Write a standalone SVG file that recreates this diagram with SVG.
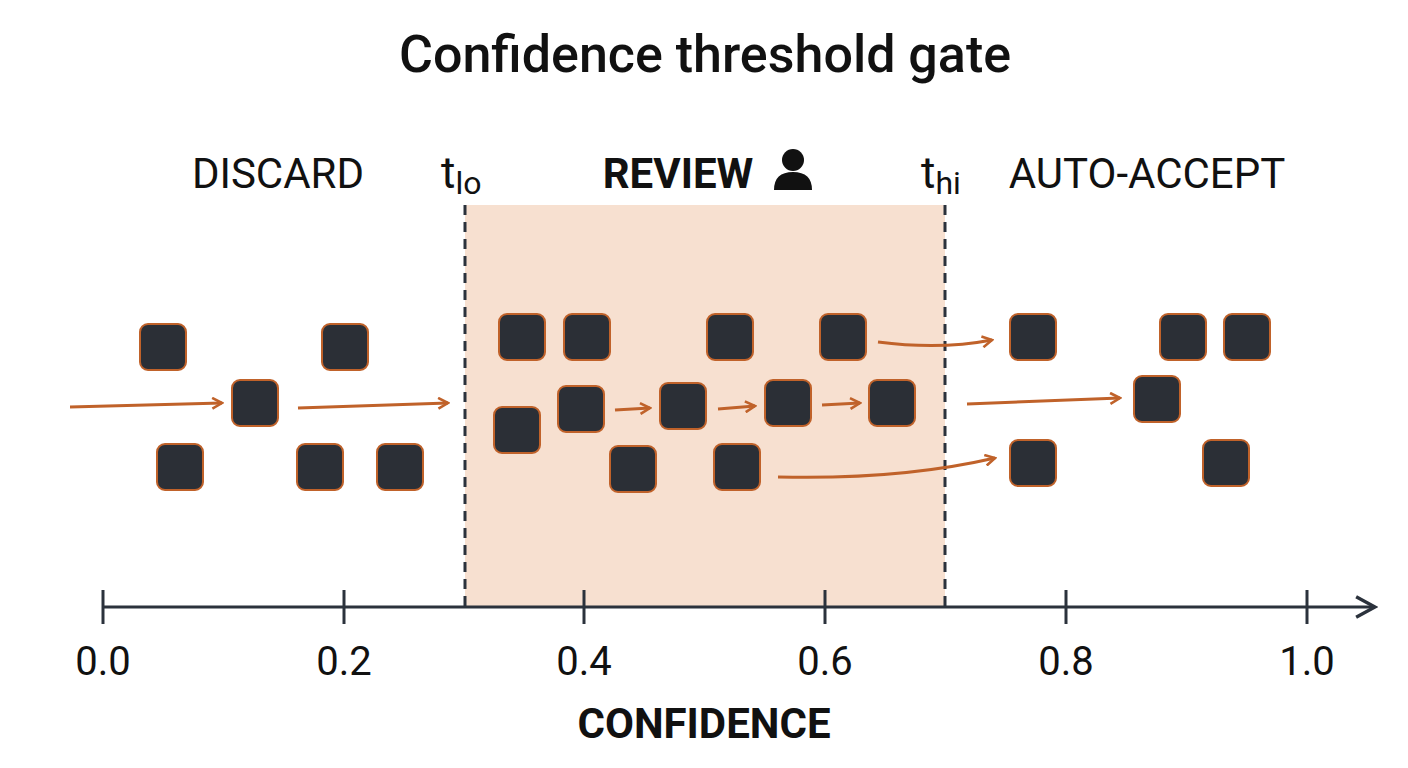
<svg xmlns="http://www.w3.org/2000/svg" width="1408" height="768" viewBox="0 0 1408 768">
<style>
.t{font-family:Roboto,"Liberation Sans",sans-serif;fill:#111}
.sq{fill:#2b2f36;stroke:#c0622a;stroke-width:2}
.ar{fill:none;stroke:#c0622a;stroke-width:3;marker-end:url(#ah)}
.ax{stroke:#2b323c;stroke-width:3;fill:none}
.dash{stroke:#2b323c;stroke-width:3;stroke-dasharray:10 7}
</style>
<defs>
<marker id="ah" viewBox="0 0 12 12" refX="10" refY="6" markerWidth="13" markerHeight="13" markerUnits="userSpaceOnUse" orient="auto"><path d="M1,1 L10,6 L1,11" fill="none" stroke="#c0622a" stroke-width="2.4"/></marker>
<marker id="axh" viewBox="0 0 14 14" refX="12" refY="7" markerWidth="24" markerHeight="24" markerUnits="userSpaceOnUse" orient="auto"><path d="M1,1 L12,7 L1,13" fill="none" stroke="#2b323c" stroke-width="2"/></marker>
</defs>
<rect width="1408" height="768" fill="#fff"/>
<text class="t" x="705" y="72" font-size="52" font-weight="500" text-anchor="middle">Confidence threshold gate</text>
<g id="zones">
<rect x="465" y="205" width="480" height="402" fill="#f7e0d0"/>
<line class="dash" x1="465" y1="205" x2="465" y2="607"/>
<line class="dash" x1="945" y1="205" x2="945" y2="607"/>
</g>
<g id="labels">
<text class="t" x="278" y="188" font-size="42" text-anchor="middle">DISCARD</text>
<text class="t" x="441" y="188" font-size="44">t<tspan font-size="32" dy="6">lo</tspan></text>
<text class="t" x="678" y="188" font-size="42" font-weight="700" text-anchor="middle">REVIEW</text>
<circle cx="793" cy="160" r="11" fill="#111"/>
<path d="M774,190 Q774,172 793,172 Q812,172 812,190 Z" fill="#111"/>
<text class="t" x="921" y="188" font-size="44">t<tspan font-size="32" dy="6">hi</tspan></text>
<text class="t" x="1147" y="188" font-size="42" text-anchor="middle">AUTO-ACCEPT</text>
</g>
<g id="nodes">
<rect class="sq" x="140" y="324" width="46" height="46" rx="8"/>
<rect class="sq" x="322" y="324" width="46" height="46" rx="8"/>
<rect class="sq" x="232" y="380" width="46" height="46" rx="8"/>
<rect class="sq" x="157" y="444" width="46" height="46" rx="8"/>
<rect class="sq" x="297" y="444" width="46" height="46" rx="8"/>
<rect class="sq" x="377" y="444" width="46" height="46" rx="8"/>
<rect class="sq" x="499" y="314" width="46" height="46" rx="8"/>
<rect class="sq" x="564" y="314" width="46" height="46" rx="8"/>
<rect class="sq" x="707" y="314" width="46" height="46" rx="8"/>
<rect class="sq" x="820" y="314" width="46" height="46" rx="8"/>
<rect class="sq" x="494" y="407" width="46" height="46" rx="8"/>
<rect class="sq" x="558" y="386" width="46" height="46" rx="8"/>
<rect class="sq" x="660" y="383" width="46" height="46" rx="8"/>
<rect class="sq" x="765" y="380" width="46" height="46" rx="8"/>
<rect class="sq" x="869" y="380" width="46" height="46" rx="8"/>
<rect class="sq" x="610" y="446" width="46" height="46" rx="8"/>
<rect class="sq" x="714" y="444" width="46" height="46" rx="8"/>
<rect class="sq" x="1010" y="314" width="46" height="46" rx="8"/>
<rect class="sq" x="1160" y="314" width="46" height="46" rx="8"/>
<rect class="sq" x="1224" y="314" width="46" height="46" rx="8"/>
<rect class="sq" x="1134" y="376" width="46" height="46" rx="8"/>
<rect class="sq" x="1010" y="440" width="46" height="46" rx="8"/>
<rect class="sq" x="1203" y="440" width="46" height="46" rx="8"/>
</g>
<g id="connectors">
<path class="ar" d="M70,407 L222,403"/>
<path class="ar" d="M298,408 L448,403"/>
<path class="ar" d="M615,410 L650,408"/>
<path class="ar" d="M718,409 L755,406"/>
<path class="ar" d="M822,405 L860,403"/>
<path class="ar" d="M878,342 Q940,350 992,340"/>
<path class="ar" d="M967,404 L1120,398"/>
<path class="ar" d="M778,477 Q900,480 995,458"/>
</g>
<g id="axis">
<line class="ax" x1="103" y1="607" x2="1375" y2="607" marker-end="url(#axh)"/>
<g class="ax">
<line x1="103" y1="590" x2="103" y2="624"/><line x1="344" y1="590" x2="344" y2="624"/><line x1="584" y1="590" x2="584" y2="624"/><line x1="825" y1="590" x2="825" y2="624"/><line x1="1066" y1="590" x2="1066" y2="624"/><line x1="1307" y1="590" x2="1307" y2="624"/>
</g>
<g class="t" font-size="40" text-anchor="middle">
<text x="103" y="675">0.0</text><text x="344" y="675">0.2</text><text x="584" y="675">0.4</text><text x="825" y="675">0.6</text><text x="1066" y="675">0.8</text><text x="1307" y="675">1.0</text>
</g>
<text class="t" x="704" y="738" font-size="42" font-weight="700" text-anchor="middle">CONFIDENCE</text>
</g>
</svg>
